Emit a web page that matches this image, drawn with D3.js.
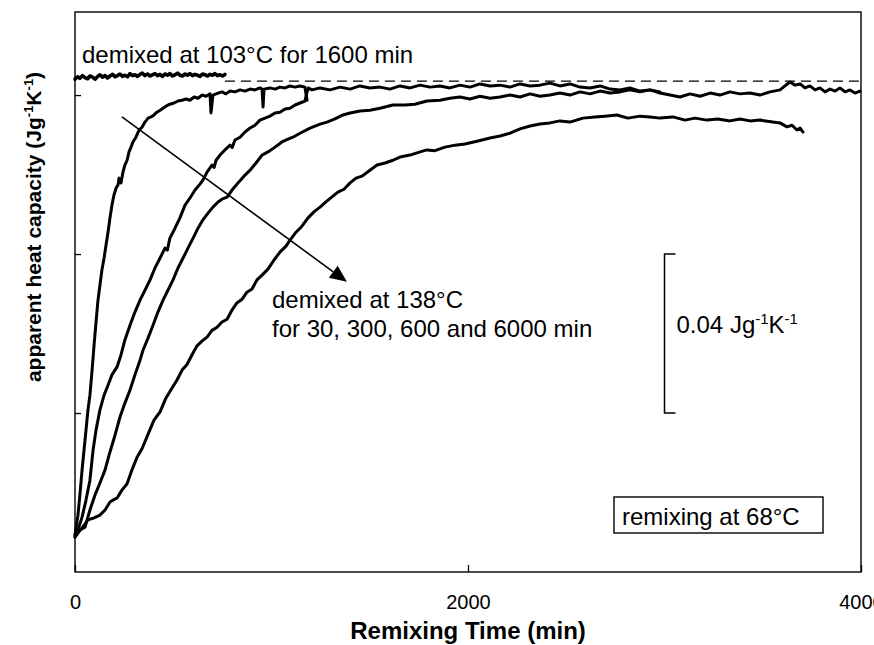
<!DOCTYPE html>
<html><head><meta charset="utf-8">
<script src="https://cdn.jsdelivr.net/npm/d3@7/dist/d3.min.js"></script>
<style>
body{margin:0;background:#fff}
svg{display:block;font-family:"Liberation Sans",Arial,sans-serif}
</style>
</head><body>
<svg id="chart" width="874" height="645"></svg>
<script>
// ---- data (time in min, apparent heat capacity in mJ g-1 K-1 above the common start level) ----
const xTickValues = [0, 2000, 4000];
const xTickLabels = ["0", "2000", "4000"];
const yTickValues = [40, 80, 120];
const plateauLevel = 123.5;          // dashed reference level
const plateauStart = 763;

const curve103 = [[0,124.0],[13,124.6],[25,124.2],[38,124.9],[51,124.4],[64,124.1],[76,124.8],[89,124.5],[102,124.0],[115,124.7],
 [127,125.1],[140,124.5],[153,124.9],[165,124.3],[178,124.8],[191,125.2],[204,124.6],[216,124.9],[229,125.3],[242,124.7],
 [254,125.0],[267,124.6],[280,125.4],[293,124.9],[305,125.1],[318,124.7],[331,125.2],[343,125.5],[356,124.9],[369,125.3],
 [382,124.8],[394,125.1],[407,125.4],[420,124.9],[433,125.2],[445,124.7],[458,125.3],[471,125.0],[483,125.4],[496,124.8],
 [509,125.1],[522,125.5],[534,125.0],[547,124.8],[560,125.3],[572,125.0],[585,125.4],[598,124.9],[611,125.2],[623,125.0],
 [636,124.7],[649,125.3],[662,125.1],[674,124.8],[687,125.2],[700,125.0],[712,125.4],[725,124.9],[738,125.1],[751,124.8],[763,125.2]];

const curve30 = [[0,9.3],[5,11.1],[15,14.3],[25,19.4],[36,25.7],[46,30.7],[56,35.7],[66,40.8],[76,44.5],[87,50.8],[97,57.1],
 [107,62.9],[117,68.4],[127,72.2],[137,76.0],[148,79.0],[158,82.3],[168,85.5],[178,89.1],[188,92.3],[198,94.8],[209,96.6],
 [219,97.4],[224,99.1],[234,97.9],[244,100.6],[254,102.4],[265,103.6],[275,105.7],[285,106.9],[295,108.2],[310,109.4],
 [326,111.2],[341,111.9],[356,113.2],[372,114.2],[387,114.5],[402,115.0],[417,115.7],[433,116.2],[448,116.7],[463,117.2],
 [483,117.7],[504,118.0],[524,118.5],[545,118.7],[565,119.0],[585,118.7],[606,119.5],[626,119.2],[646,120.0],[667,119.7],
 [687,120.3],[692,115.5],[702,120.0],[728,120.5],[748,120.8],[768,120.3],[789,121.0],[814,120.8],[840,121.3],[865,121.0],
 [891,121.5],[916,121.3],[941,121.8],[952,121.5],[957,117.0],[962,121.5],[992,121.8],[1018,121.5],[1043,122.0],[1069,121.8],
 [1094,122.3],[1120,122.0],[1145,122.3],[1170,122.0],[1181,118.7]];

const curve300 = [[0,8.8],[15,10.6],[36,13.8],[56,18.1],[76,23.1],[92,30.7],[107,35.7],[127,40.8],[148,44.5],[168,47.0],
 [188,49.6],[214,51.6],[234,54.6],[254,58.4],[280,62.1],[305,65.4],[331,68.4],[356,70.9],[382,73.5],[407,76.5],[433,79.0],
 [458,81.5],[470,81.0],[483,84.0],[509,86.5],[534,89.1],[560,92.3],[585,94.1],[611,96.1],[636,97.6],[651,98.6],[672,100.6],
 [697,102.4],[708,101.8],[718,103.6],[738,104.9],[763,106.2],[789,107.4],[800,106.8],[814,108.7],[840,109.4],[865,110.7],
 [891,111.7],[916,112.4],[941,113.7],[967,114.2],[992,114.7],[1018,115.5],[1043,115.7],[1069,116.5],[1094,116.7],
 [1120,117.5],[1145,118.0],[1170,118.5],[1186,121.8],[1206,121.3],[1247,121.8],[1298,121.3],[1349,122.0],[1400,121.5],
 [1450,122.3],[1501,121.8],[1552,122.0],[1603,121.5],[1654,122.3],[1705,121.8],[1756,122.5],[1807,122.0],[1857,122.3],
 [1908,121.8],[1959,122.5],[2010,122.0],[2061,122.8],[2112,122.3],[2163,122.5],[2214,122.0],[2265,122.8],[2316,122.3],
 [2366,122.5],[2417,123.0],[2468,122.3],[2519,122.8],[2570,122.0],[2621,121.8],[2672,122.3],[2723,121.5],[2774,121.3],
 [2824,121.8],[2875,121.0],[2926,121.3],[2977,120.8]];

const curve600 = [[0,9.3],[25,10.6],[51,11.3],[76,15.6],[102,19.4],[127,22.4],[153,25.7],[178,30.2],[204,34.5],[229,39.0],
 [254,42.5],[280,45.8],[305,49.6],[331,53.3],[346,55.8],[372,58.9],[397,62.1],[422,65.4],[448,68.4],[473,70.9],[499,73.5],
 [524,76.5],[550,79.0],[575,81.5],[601,84.0],[626,86.5],[651,88.6],[677,90.3],[702,91.8],[728,93.1],[748,93.8],[774,94.3],
 [799,96.1],[830,97.9],[860,99.6],[891,101.1],[921,102.9],[952,104.9],[982,105.7],[1018,106.9],[1053,108.2],[1084,108.9],
 [1109,109.4],[1145,110.4],[1196,111.7],[1247,112.7],[1282,113.2],[1323,114.0],[1364,115.0],[1400,115.5],[1450,116.0],
 [1501,116.2],[1552,116.7],[1618,117.5],[1679,117.5],[1730,117.7],[1791,118.5],[1857,118.7],[1908,119.2],[1959,119.5],
 [2010,119.0],[2061,119.7],[2112,119.2],[2163,119.5],[2214,120.0],[2265,119.5],[2316,120.3],[2366,119.7],[2417,120.0],
 [2468,120.5],[2519,120.0],[2570,120.8],[2621,120.3],[2672,121.0],[2723,120.5],[2774,120.8],[2824,121.3],[2875,120.8],
 [2926,121.3],[2977,120.5],[3028,120.0],[3079,119.5],[3130,120.3],[3181,119.7],[3232,120.5],[3282,120.0],[3333,120.8],
 [3384,120.3],[3435,120.5],[3486,120.0],[3537,120.8],[3588,121.3],[3613,122.3],[3639,123.3],[3664,122.5],[3690,122.8],
 [3715,121.8],[3740,122.3],[3766,121.3],[3791,121.8],[3817,120.8],[3842,121.5],[3868,121.0],[3893,121.8],[3919,120.8],
 [3944,121.3],[3969,120.5],[3995,121.0]];

const curve6000 = [[0,8.8],[15,9.8],[36,11.1],[66,13.1],[97,13.6],[127,14.3],[153,15.6],[178,17.6],[204,18.4],[214,18.6],
 [239,20.6],[265,22.2],[290,25.7],[316,28.9],[341,31.0],[372,34.7],[402,38.2],[433,40.3],[463,43.8],[494,46.3],[519,48.3],
 [545,50.8],[570,52.2],[595,54.6],[621,56.9],[646,58.1],[672,59.1],[697,60.8],[723,61.6],[748,62.9],[774,63.6],[799,65.9],
 [824,67.7],[850,68.6],[875,70.4],[901,71.2],[926,73.5],[952,74.7],[982,76.2],[1013,78.5],[1043,80.5],[1074,82.0],
 [1094,83.5],[1125,85.5],[1155,87.0],[1186,89.1],[1216,90.6],[1247,91.8],[1277,93.1],[1308,94.4],[1338,95.6],[1369,96.3],
 [1400,97.9],[1430,99.1],[1461,99.6],[1501,101.1],[1537,102.4],[1578,102.9],[1618,103.6],[1654,104.4],[1705,104.9],
 [1756,105.7],[1791,106.2],[1832,106.0],[1883,106.9],[1934,107.4],[1985,107.7],[2046,108.4],[2112,109.2],[2163,109.7],
 [2214,110.4],[2265,111.5],[2316,112.2],[2366,112.7],[2417,113.0],[2468,113.5],[2519,113.2],[2585,114.2],[2646,114.5],
 [2697,114.7],[2758,115.0],[2814,114.2],[2875,114.7],[2926,114.5],[2977,114.2],[3043,114.5],[3104,113.7],[3155,114.2],
 [3216,113.7],[3272,114.0],[3333,113.5],[3384,114.0],[3435,113.5],[3486,113.7],[3552,113.2],[3588,113.0],[3623,112.0],
 [3649,112.4],[3674,111.2],[3690,111.7],[3705,110.7]];

const scaleBarTime = 3000;            // position of the 0.04 J g-1 K-1 scale bar
const scaleBarRange = [40, 80];
const arrowFrom = [239, 114.5];
const arrowTo = [1384, 73.0];

// ---- layout ----
const svg = d3.select("#chart");
const W = 874, H = 645;
const m = {left: 75, right: 13, top: 12, bottom: 73};
const x = d3.scaleLinear().domain([0, 4000]).range([m.left, W - m.right]);
const y = d3.scaleLinear().domain([0, 140.9]).range([H - m.bottom, m.top]);

// frame
svg.append("rect").attr("x", x(0)).attr("y", y(140.9))
  .attr("width", x(4000) - x(0)).attr("height", y(0) - y(140.9))
  .attr("fill", "none").attr("stroke", "#000").attr("stroke-width", 1.4);

// axes
const xAxis = svg.append("g").attr("transform", `translate(0,${y(0)})`)
  .call(d3.axisBottom(x).tickValues(xTickValues).tickFormat((d,i) => xTickLabels[i])
    .tickSize(-7).tickPadding(23));
xAxis.select(".domain").remove();
xAxis.selectAll("text").attr("font-size", 20).attr("font-family", "Liberation Sans, Arial, sans-serif").attr("fill", "#000");
xAxis.selectAll("line").attr("stroke", "#000").attr("stroke-width", 1.3);

const yAxis = svg.append("g").attr("transform", `translate(${x(0)},0)`)
  .call(d3.axisLeft(y).tickValues(yTickValues).tickFormat("").tickSize(-6));
yAxis.select(".domain").remove();
yAxis.selectAll("line").attr("stroke", "#000").attr("stroke-width", 1.3);

// dashed plateau
svg.append("line").attr("x1", x(plateauStart)).attr("x2", x(4000))
  .attr("y1", y(plateauLevel)).attr("y2", y(plateauLevel))
  .attr("stroke", "#000").attr("stroke-width", 1.3).attr("stroke-dasharray", "10,6");

// curves
const line = d3.line().x(d => x(d[0])).y(d => y(d[1]));
[[curve103, 3.6], [curve30, 3], [curve300, 3], [curve600, 3], [curve6000, 3]].forEach(([c, w]) => {
  svg.append("path").datum(c).attr("d", line)
    .attr("fill", "none").attr("stroke", "#000").attr("stroke-width", w)
    .attr("stroke-linejoin", "round").attr("stroke-linecap", "round");
});

// arrow
const ax1 = x(arrowFrom[0]), ay1 = y(arrowFrom[1]), ax2 = x(arrowTo[0]), ay2 = y(arrowTo[1]);
const ang = Math.atan2(ay2 - ay1, ax2 - ax1), hl = 17, hw = 7.5;
const bx = ax2 - hl * Math.cos(ang), by = ay2 - hl * Math.sin(ang);
svg.append("line").attr("x1", ax1).attr("y1", ay1).attr("x2", bx).attr("y2", by)
  .attr("stroke", "#000").attr("stroke-width", 1.6);
svg.append("path").attr("d", `M${ax2},${ay2}L${bx - hw*Math.sin(ang)},${by + hw*Math.cos(ang)}L${bx + hw*Math.sin(ang)},${by - hw*Math.cos(ang)}Z`)
  .attr("fill", "#000");

// scale bar
const sbx = x(scaleBarTime);
svg.append("path")
  .attr("d", `M${sbx+11},${y(scaleBarRange[1])}H${sbx}V${y(scaleBarRange[0])}H${sbx+11}`)
  .attr("fill", "none").attr("stroke", "#000").attr("stroke-width", 1.5);

// texts
const T = (txt, px, py, size, weight) => svg.append("text").attr("x", px).attr("y", py)
  .attr("font-size", size).attr("font-weight", weight || "normal").attr("fill", "#000").text(txt);

T("demixed at 103°C for 1600 min", 82, 63, 24);
T("demixed at 138°C", 272, 308, 24);
T("for 30, 300, 600 and 6000 min", 272, 337, 24);

const sb = svg.append("text").attr("x", sbx + 12).attr("y", 333).attr("font-size", 24).attr("fill", "#000");
sb.append("tspan").text("0.04 Jg");
sb.append("tspan").attr("font-size", 15).attr("dy", -9).text("-1");
sb.append("tspan").attr("dy", 9).text("K");
sb.append("tspan").attr("font-size", 15).attr("dy", -9).text("-1");

// remixing box
svg.append("rect").attr("x", 614).attr("y", 497).attr("width", 209).attr("height", 36)
  .attr("fill", "#fff").attr("stroke", "#000").attr("stroke-width", 1.4);
T("remixing at 68°C", 622, 525, 24);

// axis titles
T("Remixing Time (min)", x(2000), 639, 24, "bold").attr("text-anchor", "middle");
const yt = svg.append("text").attr("transform", "translate(41,227) rotate(-90)")
  .attr("text-anchor", "middle").attr("font-size", 21).attr("font-weight", "bold").attr("fill", "#000");
yt.append("tspan").text("apparent heat capacity (Jg");
yt.append("tspan").attr("font-size", 13).attr("dy", -8).text("-1");
yt.append("tspan").attr("dy", 8).text("K");
yt.append("tspan").attr("font-size", 13).attr("dy", -8).text("-1");
yt.append("tspan").attr("dy", 8).text(")");
</script>
</body></html>
